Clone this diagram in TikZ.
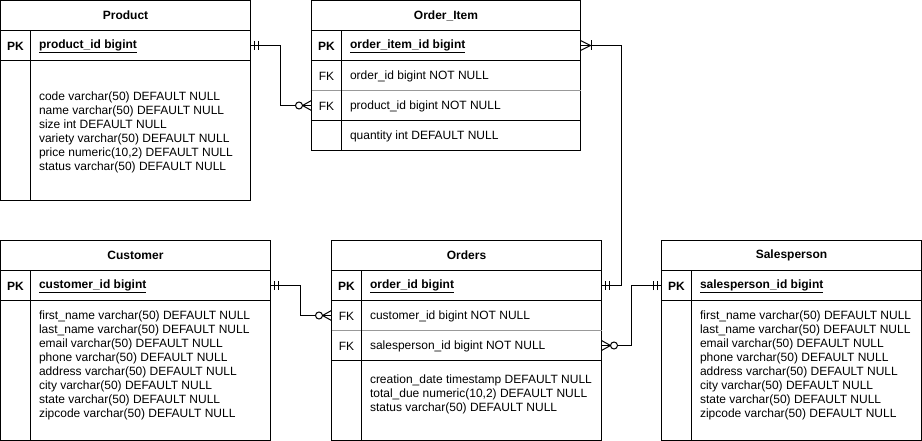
\documentclass[tikz,border=0pt]{standalone}
\usepackage{fontspec}
\setmainfont{Liberation Sans}
\begin{document}
\fontsize{12pt}{14pt}\selectfont
\begin{tikzpicture}[x=1pt,y=-1pt,line width=1pt,
  box/.style={draw,rectangle,inner sep=0pt,outer sep=0pt,anchor=north west},
  rowbox/.style={rectangle,inner sep=0pt,outer sep=0pt,anchor=north west,minimum height=30pt},
  ttl/.style={rowbox,font=\bfseries},
  keytxt/.style={inner sep=0pt,yshift=-0.5pt},
  pkkey/.style={inner sep=0pt,font=\bfseries,yshift=-0.5pt},
  pkfld/.style={inner sep=0pt,anchor=west,font=\bfseries,yshift=-0.5pt},
  fld/.style={inner sep=0pt,anchor=west,yshift=-0.5pt},
  bodytxt/.style={inner sep=0pt,anchor=west,align=left},
  soft/.style={draw=black!40},
  pics/mone/.style={code={\draw (4,-4.5)--(4,4.5) (8,-4.5)--(8,4.5);}},
  pics/zmany/.style={code={\draw (0,-5)--(9,0)--(0,5); \draw[fill=white] (12.5,0) circle[radius=3.5pt];}},
  pics/omany/.style={code={\draw (0,-5)--(10,0)--(0,5); \draw (10.5,-5)--(10.5,5);}}]
\useasboundingbox (0,0) rectangle (922,441);

% ---------- Product ----------
\node[box,minimum width=250pt,minimum height=200pt] (product) at (0.5,0.5) {};
\node[ttl,minimum width=250pt] (producttitle) at (0.5,0.5) {Product};
\node[rowbox,minimum width=250pt] (productpk) at (0.5,30.5) {};
\draw (productpk.north west) -- (productpk.north east);
\draw (productpk.south west) -- (productpk.south east);
\draw ([xshift=30pt]productpk.north west) -- ([xshift=30pt]product.south west);
\node[pkkey] at ([xshift=15pt]productpk.west) {PK};
\node[pkfld] at ([xshift=38pt]productpk.west) {\underline{product\_id bigint}};
\node[bodytxt] (productbody) at (38.5,132.5) {code varchar(50) DEFAULT NULL\\name varchar(50) DEFAULT NULL\\size int DEFAULT NULL\\variety varchar(50) DEFAULT NULL\\price numeric(10,2) DEFAULT NULL\\status varchar(50) DEFAULT NULL};

% ---------- Order_Item ----------
\node[box,minimum width=269pt,minimum height=150pt] (orderitem) at (311.5,0.5) {};
\node[ttl,minimum width=269pt] (orderitemtitle) at (311.5,0.5) {Order\_Item};
\node[rowbox,minimum width=269pt] (oipk) at (311.5,30.5) {};
\node[rowbox,minimum width=269pt] (oiord) at (311.5,60.5) {};
\node[rowbox,minimum width=269pt] (oiprod) at (311.5,90.5) {};
\node[rowbox,minimum width=269pt] (oiqty) at (311.5,120.5) {};
\draw (oipk.north west) -- (oipk.north east);
\draw (oiord.north west) -- (oiord.north east);
\draw[soft] (oiprod.north west) -- (oiprod.north east);
\draw (oiqty.north west) -- (oiqty.north east);
\draw ([xshift=30pt]oipk.north west) -- ([xshift=30pt]orderitem.south west);
\node[pkkey] at ([xshift=15pt]oipk.west) {PK};
\node[pkfld] at ([xshift=38pt]oipk.west) {\underline{order\_item\_id bigint}};
\node[keytxt] at ([xshift=15pt]oiord.west) {FK};
\node[fld] at ([xshift=38pt]oiord.west) {order\_id bigint NOT NULL};
\node[keytxt] at ([xshift=15pt]oiprod.west) {FK};
\node[fld] at ([xshift=38pt]oiprod.west) {product\_id bigint NOT NULL};
\node[fld] at ([xshift=38pt]oiqty.west) {quantity int DEFAULT NULL};

% ---------- Customer ----------
\node[box,minimum width=270pt,minimum height=200pt] (customer) at (0.5,240.5) {};
\node[ttl,minimum width=270pt] (customertitle) at (0.5,240.5) {Customer};
\node[rowbox,minimum width=270pt] (custpk) at (0.5,270.5) {};
\draw (custpk.north west) -- (custpk.north east);
\draw (custpk.south west) -- (custpk.south east);
\draw ([xshift=30pt]custpk.north west) -- ([xshift=30pt]customer.south west);
\node[pkkey] at ([xshift=15pt]custpk.west) {PK};
\node[pkfld] at ([xshift=38pt]custpk.west) {\underline{customer\_id bigint}};
\node[bodytxt] (custbody) at (38.5,365) {first\_name varchar(50) DEFAULT NULL\\last\_name varchar(50) DEFAULT NULL\\email varchar(50) DEFAULT NULL\\phone varchar(50) DEFAULT NULL\\address varchar(50) DEFAULT NULL\\city varchar(50) DEFAULT NULL\\state varchar(50) DEFAULT NULL\\zipcode varchar(50) DEFAULT NULL};

% ---------- Orders ----------
\node[box,minimum width=270pt,minimum height=200pt] (orders) at (331.5,240.5) {};
\node[ttl,minimum width=270pt] (orderstitle) at (331.5,240.5) {Orders};
\node[rowbox,minimum width=270pt] (ordpk) at (331.5,270.5) {};
\node[rowbox,minimum width=270pt] (ordcust) at (331.5,300.5) {};
\node[rowbox,minimum width=270pt] (ordsales) at (331.5,330.5) {};
\draw (ordpk.north west) -- (ordpk.north east);
\draw (ordcust.north west) -- (ordcust.north east);
\draw[soft] (ordsales.north west) -- (ordsales.north east);
\draw (ordsales.south west) -- (ordsales.south east);
\draw ([xshift=30pt]ordpk.north west) -- ([xshift=30pt]orders.south west);
\node[pkkey] at ([xshift=15pt]ordpk.west) {PK};
\node[pkfld] at ([xshift=38pt]ordpk.west) {\underline{order\_id bigint}};
\node[keytxt] at ([xshift=15pt]ordcust.west) {FK};
\node[fld] at ([xshift=38pt]ordcust.west) {customer\_id bigint NOT NULL};
\node[keytxt] at ([xshift=15pt]ordsales.west) {FK};
\node[fld] at ([xshift=38pt]ordsales.west) {salesperson\_id bigint NOT NULL};
\node[bodytxt] (ordbody) at (369.5,394) {creation\_date timestamp DEFAULT NULL\\total\_due numeric(10,2) DEFAULT NULL\\status varchar(50) DEFAULT NULL};

% ---------- Salesperson ----------
\node[box,minimum width=260pt,minimum height=200pt] (salesperson) at (661.5,240.5) {};
\node[ttl,minimum width=260pt] (salestitle) at (661.5,240.5) {Salesperson};
\node[rowbox,minimum width=260pt] (salespk) at (661.5,270.5) {};
\draw (salespk.north west) -- (salespk.north east);
\draw (salespk.south west) -- (salespk.south east);
\draw ([xshift=30pt]salespk.north west) -- ([xshift=30pt]salesperson.south west);
\node[pkkey] at ([xshift=15pt]salespk.west) {PK};
\node[pkfld] at ([xshift=38pt]salespk.west) {\underline{salesperson\_id bigint}};
\node[bodytxt] (salesbody) at (699.5,365) {first\_name varchar(50) DEFAULT NULL\\last\_name varchar(50) DEFAULT NULL\\email varchar(50) DEFAULT NULL\\phone varchar(50) DEFAULT NULL\\address varchar(50) DEFAULT NULL\\city varchar(50) DEFAULT NULL\\state varchar(50) DEFAULT NULL\\zipcode varchar(50) DEFAULT NULL};

% ---------- Connectors ----------
\draw (productpk.east) -- ++(30,0) |- (oiprod.west);
\draw (oipk.east) -- ++(41,0) |- (ordpk.east);
\draw (custpk.east) -- ++(30,0) |- (ordcust.west);
\draw (ordsales.east) -- ++(30,0) |- (salespk.west);

% ---------- Markers ----------
\pic at (productpk.east) {mone};
\pic[rotate=180] at (oiprod.west) {zmany};
\pic at (oipk.east) {omany};
\pic at (ordpk.east) {mone};
\pic at (custpk.east) {mone};
\pic[rotate=180] at (ordcust.west) {zmany};
\pic at (ordsales.east) {zmany};
\pic[rotate=180] at (salespk.west) {mone};
\end{tikzpicture}
\end{document}
